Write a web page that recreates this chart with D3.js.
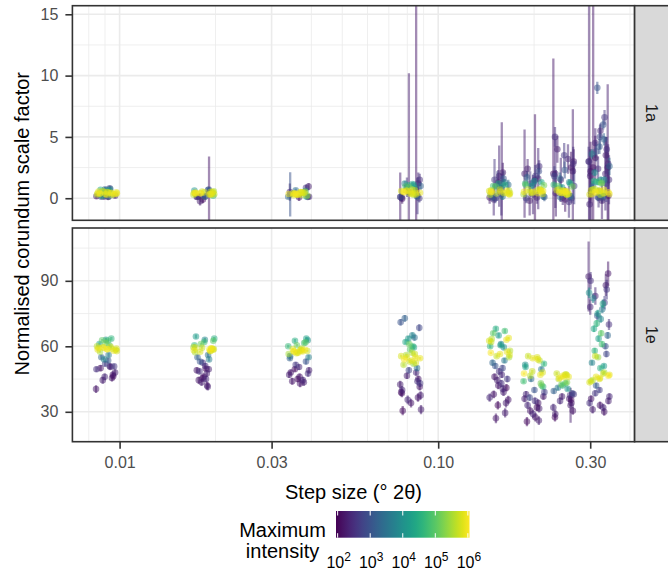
<!DOCTYPE html>
<html>
<head>
<meta charset="utf-8">
<script src="https://cdn.jsdelivr.net/npm/d3@7"></script>
<style>
  body { margin: 0; background: #fff; }
  text { font-family: "Liberation Sans", Arial, sans-serif; }
</style>
</head>
<body>
<svg id="chart" width="668" height="573"></svg>
<script>
// step sizes (° 2θ), one cluster per step
const steps = [0.0091, 0.0184, 0.0365, 0.082, 0.156, 0.2, 0.248, 0.32];
const xTicks = [0.01, 0.03, 0.1, 0.3];
const xMinorTicks = [0.008, 0.009, 0.02, 0.04, 0.05, 0.06, 0.07, 0.08, 0.09, 0.2, 0.4];
const legendTicks = [2, 3, 4, 5, 6];

// horizontal jitter, fraction of the jitter width
const jitter = [-0.82, 0.35, -0.10, 0.91, -0.55, 0.12, 0.67, -0.93, 0.44, -0.28,
                0.79, -0.66, 0.03, 0.58, -0.41, 0.95, -0.17, 0.26, -0.74, 0.50,
                -0.05, 0.86, -0.35, 0.19, -0.88, 0.70, -0.48, 0.08, 0.62, -0.22,
                0.38, -0.97, 0.15, -0.60, 0.83, -0.13, 0.47, -0.79, 0.29, -0.36];

// points per step: [scale factor, log10 max intensity, error]
const facet1a = [
  [[0.40,5.9,0.03],[0.48,5.8,0.03],[0.32,5.9,0.03],[0.52,5.7,0.04],[0.28,5.8,0.03],[0.41,6.0,0.02],[0.55,5.9,0.03],[0.35,5.7,0.04],[0.30,5.6,0.04],[0.50,5.8,0.03],[0.44,5.7,0.04],[0.38,6.0,0.02],[0.26,5.5,0.05],[0.58,5.6,0.04],[0.34,5.9,0.03],[0.46,5.8,0.03],[0.42,6.0,0.02],[0.36,5.6,0.04],[0.18,4.6,0.08],[0.62,4.3,0.1],[0.65,3.9,0.12],[0.15,3.4,0.15],[0.12,2.8,0.2],[0.14,2.5,0.25],[0.10,2.3,0.25],[0.72,3.1,0.2],[0.80,2.7,0.22],[0.75,3.6,0.18],[0.68,4.4,0.1],[0.16,2.2,0.2],[0.20,2.4,0.2]],
  [[0.42,5.9,0.03],[0.50,5.8,0.03],[0.34,5.9,0.03],[0.55,5.7,0.04],[0.30,5.8,0.03],[0.41,6.0,0.02],[0.36,5.9,0.03],[0.53,5.7,0.04],[0.29,5.6,0.04],[0.46,5.8,0.03],[0.37,5.7,0.04],[0.44,6.0,0.02],[0.57,5.5,0.05],[0.27,5.6,0.04],[0.40,5.9,0.03],[0.48,5.8,0.03],[0.33,5.7,0.03],[0.45,6.0,0.02],[0.20,4.5,0.08],[0.62,4.1,0.1],[0.15,3.5,0.15],[0.66,3.2,0.18],[0.12,2.7,0.2],[0.45,2.2,2.95],[-0.25,2.3,0.35],[-0.10,2.1,0.3],[0.14,2.4,0.25],[0.70,2.8,0.2],[0.10,2.2,0.2],[0.16,2.5,0.2]],
  [[0.36,5.9,0.03],[0.44,5.8,0.03],[0.28,5.9,0.03],[0.48,5.7,0.04],[0.25,5.8,0.03],[0.37,6.0,0.02],[0.50,5.9,0.03],[0.31,5.7,0.04],[0.26,5.6,0.04],[0.46,5.8,0.03],[0.40,5.7,0.04],[0.34,6.0,0.02],[0.22,5.5,0.05],[0.52,5.6,0.04],[0.30,5.9,0.03],[0.42,5.8,0.03],[0.38,6.0,0.02],[0.15,4.4,0.08],[0.58,4.0,0.1],[0.12,3.3,0.15],[0.10,2.6,0.2],[0.32,3.0,1.8],[0.50,2.4,0.7],[0.95,2.3,0.3],[0.85,2.6,0.25],[0.64,3.4,0.15],[0.08,2.2,0.3],[0.12,2.4,0.2]],
  [[0.45,5.9,0.04],[0.58,5.8,0.04],[0.35,5.9,0.04],[0.65,5.7,0.05],[0.48,6.0,0.03],[0.30,5.8,0.04],[0.60,5.9,0.04],[0.38,5.6,0.05],[0.70,5.7,0.05],[0.42,5.8,0.04],[0.52,6.0,0.03],[0.62,5.6,0.05],[0.28,5.5,0.06],[0.55,5.9,0.04],[0.40,5.7,0.04],[0.95,4.9,0.1],[1.05,4.6,0.12],[1.15,4.3,0.15],[0.90,5.1,0.1],[1.10,4.0,0.15],[0.85,4.4,0.12],[1.20,3.7,0.2],[0.10,3.0,0.3],[0.00,2.6,0.35],[0.15,3.4,0.2],[0.50,2.3,9.7],[0.70,2.2,16],[0.90,2.5,0.8],[1.20,2.4,0.9],[0.20,2.6,1.5],[0.10,2.3,2.0],[1.50,2.5,0.5],[-0.05,2.2,0.4],[0.05,2.4,0.3],[1.00,3.2,0.3]],
  [[0.45,5.9,0.05],[0.58,5.8,0.05],[0.35,5.9,0.05],[0.65,5.7,0.06],[0.48,6.0,0.04],[0.30,5.8,0.05],[0.60,5.9,0.05],[0.38,5.6,0.06],[0.70,5.7,0.06],[0.42,5.8,0.05],[0.52,6.0,0.04],[0.62,5.6,0.06],[0.28,5.5,0.07],[0.55,5.9,0.05],[0.40,5.7,0.06],[1.00,4.8,0.12],[1.10,4.5,0.15],[0.95,5.0,0.1],[1.20,4.2,0.18],[0.90,4.0,0.2],[1.30,3.6,0.25],[0.10,3.2,0.35],[0.00,2.8,0.4],[0.15,3.5,0.3],[1.80,2.4,2.5],[0.80,2.3,5.4],[1.50,2.6,1.7],[1.00,2.8,1.2],[0.30,2.5,1.7],[1.30,2.2,1.0],[2.10,2.3,0.8],[1.60,3.0,0.6],[-0.10,2.4,1.3],[0.05,2.3,0.5],[1.10,3.4,0.4]],
  [[0.50,5.9,0.05],[0.62,5.8,0.05],[0.40,5.9,0.05],[0.70,5.7,0.06],[0.52,6.0,0.04],[0.35,5.8,0.05],[0.65,5.9,0.05],[0.42,5.6,0.06],[0.74,5.7,0.06],[0.46,5.8,0.05],[0.56,6.0,0.04],[0.68,5.6,0.06],[0.32,5.5,0.07],[0.58,5.9,0.05],[1.10,5.0,0.1],[1.20,4.7,0.12],[1.05,5.2,0.1],[1.30,4.4,0.15],[1.00,4.1,0.2],[1.40,3.8,0.25],[0.10,3.1,0.35],[0.00,2.7,0.4],[0.15,3.4,0.3],[2.00,2.3,3.6],[1.50,2.2,5.35],[1.60,2.4,2.5],[2.40,2.3,0.8],[2.60,2.5,0.5],[1.20,2.6,1.0],[0.30,2.4,1.6],[1.80,2.7,0.9],[2.20,2.9,0.6],[1.70,3.2,0.5],[-0.20,2.3,1.2],[0.05,2.4,0.5],[1.25,3.5,0.4]],
  [[0.45,5.9,0.05],[0.58,5.8,0.05],[0.35,5.9,0.05],[0.65,5.7,0.06],[0.48,6.0,0.04],[0.30,5.8,0.05],[0.60,5.9,0.05],[0.38,5.6,0.06],[0.70,5.7,0.06],[0.42,5.8,0.05],[0.52,6.0,0.04],[0.62,5.6,0.06],[0.28,5.5,0.07],[0.55,5.9,0.05],[1.00,5.0,0.1],[1.10,4.7,0.12],[0.95,5.2,0.1],[1.20,4.4,0.15],[0.90,4.1,0.2],[1.30,3.8,0.25],[0.10,3.1,0.35],[0.00,2.7,0.4],[0.15,3.4,0.3],[2.00,2.2,9.4],[2.20,2.3,5.05],[2.00,2.4,2.8],[5.00,2.5,0.8],[3.00,2.3,1.0],[2.50,2.2,1.3],[1.50,2.4,1.8],[3.50,2.6,1.0],[1.00,2.7,1.5],[0.40,2.3,1.9],[2.80,2.5,1.4],[1.80,2.8,0.8],[2.30,3.0,0.7],[3.20,2.4,1.2],[4.00,2.3,1.1],[-0.30,2.5,1.3],[1.60,3.3,0.5],[0.05,2.4,0.6],[-0.10,2.2,1.0]],
  [[0.45,5.9,0.05],[0.58,5.8,0.05],[0.35,5.9,0.05],[0.65,5.7,0.06],[0.48,6.0,0.04],[0.30,5.8,0.05],[0.60,5.9,0.05],[0.38,5.6,0.06],[0.70,5.7,0.06],[0.42,5.8,0.05],[0.52,6.0,0.04],[0.62,5.6,0.06],[0.28,5.5,0.07],[0.68,5.9,0.05],[0.33,5.8,0.05],[0.75,5.7,0.06],[1.25,5.0,0.1],[1.35,4.8,0.12],[1.20,5.2,0.1],[1.40,4.5,0.15],[1.30,4.2,0.2],[1.50,3.8,0.25],[0.10,3.1,0.35],[0.00,2.7,0.4],[0.15,3.4,0.3],[2.50,2.2,16],[3.00,2.3,16],[2.50,2.3,6.8],[2.00,2.4,3.0],[9.00,3.0,0.5],[6.60,2.6,0.6],[4.50,2.4,1.2],[4.00,2.5,1.0],[3.50,2.3,1.5],[3.00,2.6,1.2],[2.80,2.4,1.6],[2.20,2.2,2.4],[1.80,2.3,2.2],[1.50,2.5,2.0],[1.20,2.7,1.5],[3.80,2.9,0.8],[4.20,3.1,0.6],[2.60,3.3,0.7],[0.50,2.3,2.3],[0.20,2.2,2.5],[-0.50,2.4,1.3],[5.00,2.8,1.0],[6.00,3.0,0.4],[1.00,3.5,0.4],[1.50,3.8,0.3],[3.30,2.2,1.8],[2.40,2.5,1.0],[5.50,2.4,0.6],[4.80,3.2,0.5],[3.60,3.6,0.4],[2.10,3.9,0.3],[-0.20,2.3,1.5],[0.05,2.5,0.8]]
];

const facet1e = [
  [[58.5,5.9,0.4],[59.0,5.8,0.4],[58.0,5.9,0.4],[59.5,5.7,0.5],[58.8,6.0,0.3],[57.8,5.8,0.4],[59.2,5.9,0.4],[58.3,5.7,0.5],[60.0,5.6,0.5],[58.6,5.9,0.4],[59.8,5.8,0.4],[57.5,5.5,0.5],[58.9,5.7,0.4],[59.4,6.0,0.3],[61.5,5.2,0.6],[62.5,4.9,0.7],[63.5,4.6,0.8],[61.0,4.4,0.8],[62.8,5.0,0.6],[60.5,4.8,0.7],[63.0,4.2,0.9],[56.0,3.6,1.0],[55.0,3.3,1.0],[54.0,3.8,1.0],[53.5,3.1,1.2],[52.0,2.7,1.3],[51.0,2.4,1.3],[50.5,2.3,1.4],[50.0,2.2,1.4],[49.5,2.5,1.3],[48.0,2.3,1.5],[47.0,2.2,1.5],[46.0,2.4,1.5],[45.5,2.2,1.6],[44.5,2.3,1.6],[50.8,2.6,1.2],[46.3,2.1,1.5],[40.4,2.2,1.8]],
  [[58.2,5.9,0.4],[58.8,5.8,0.4],[57.8,5.9,0.4],[59.3,5.7,0.5],[58.5,6.0,0.3],[57.5,5.8,0.4],[59.0,5.9,0.4],[58.0,5.7,0.5],[59.6,5.6,0.5],[58.4,5.9,0.4],[59.4,5.8,0.4],[57.3,5.5,0.5],[58.7,5.7,0.4],[59.1,6.0,0.3],[61.0,5.1,0.6],[62.0,4.8,0.7],[63.5,4.5,0.8],[64.5,4.2,0.9],[62.5,5.0,0.6],[60.5,4.7,0.7],[63.0,3.9,0.9],[56.0,3.5,1.0],[55.0,3.2,1.0],[54.0,3.7,1.0],[53.0,3.0,1.2],[52.5,2.6,1.3],[51.0,2.4,1.3],[49.5,2.3,1.4],[49.0,2.2,1.4],[48.5,2.5,1.3],[47.5,2.3,1.5],[46.0,2.2,1.5],[45.0,2.4,1.5],[44.5,2.2,1.6],[43.5,2.3,1.6],[49.8,2.1,1.2],[45.3,2.1,1.5],[42.0,2.2,1.8],[41.5,2.3,1.8]],
  [[57.5,5.9,0.4],[58.0,5.8,0.4],[57.0,5.9,0.4],[58.5,5.7,0.5],[57.8,6.0,0.3],[56.8,5.8,0.4],[58.2,5.9,0.4],[57.3,5.7,0.5],[59.0,5.6,0.5],[57.6,5.9,0.4],[58.7,5.8,0.4],[56.5,5.5,0.5],[57.9,5.7,0.4],[58.4,6.0,0.3],[60.5,5.1,0.6],[61.5,4.8,0.7],[62.5,4.5,0.8],[63.5,4.3,0.9],[61.8,5.0,0.6],[60.0,4.7,0.7],[62.8,4.0,0.9],[55.5,3.5,1.0],[54.5,3.2,1.0],[55.0,3.7,1.0],[53.0,3.0,1.2],[51.5,2.6,1.3],[50.5,2.4,1.3],[49.0,2.3,1.4],[48.0,2.2,1.4],[47.5,2.5,1.3],[47.0,2.3,1.5],[46.0,2.2,1.5],[44.5,2.4,1.5],[44.0,2.2,1.6],[43.5,2.3,1.6],[49.5,2.1,1.2],[45.0,2.1,1.5],[43.0,2.2,1.8]],
  [[54.5,5.9,0.6],[55.5,5.8,0.6],[53.5,5.9,0.6],[56.5,5.7,0.7],[54.0,6.0,0.5],[52.5,5.8,0.6],[55.0,5.9,0.6],[53.0,5.7,0.7],[57.0,5.6,0.7],[54.8,5.9,0.6],[51.5,5.6,0.7],[56.0,5.5,0.7],[52.0,5.4,0.8],[58.5,5.0,0.9],[60.0,4.7,1.0],[62.0,4.4,1.1],[63.5,4.1,1.2],[65.0,3.8,1.3],[61.0,5.1,0.9],[59.5,4.3,1.0],[64.0,3.4,1.3],[72.8,3.2,1.5],[71.0,3.0,1.5],[68.5,2.8,1.6],[50.0,3.5,1.2],[49.0,2.8,1.4],[48.0,2.4,1.5],[46.5,2.3,1.5],[45.0,2.2,1.6],[44.0,2.5,1.6],[42.5,2.3,1.7],[41.5,2.2,1.7],[40.0,2.4,1.8],[38.5,2.2,1.8],[37.5,2.3,1.9],[36.5,2.2,1.9],[35.5,2.4,2.0],[34.0,2.2,2.0],[31.0,2.3,2.1],[30.5,2.1,2.1],[43.0,2.6,1.6],[39.0,2.1,1.8]],
  [[63.0,5.9,0.6],[62.5,5.8,0.6],[63.8,5.9,0.6],[62.0,5.7,0.7],[57.0,6.0,0.5],[56.0,5.8,0.6],[57.5,5.9,0.6],[55.5,5.7,0.7],[56.5,5.9,0.6],[58.0,5.6,0.7],[63.3,5.6,0.6],[55.0,5.5,0.7],[60.0,4.6,0.9],[60.5,4.3,0.9],[59.5,4.0,1.0],[66.0,5.0,1.0],[67.0,4.8,1.0],[68.0,4.5,1.1],[65.0,4.2,1.1],[61.0,3.8,1.2],[53.5,3.6,1.2],[52.5,3.3,1.3],[51.0,3.0,1.3],[50.0,2.8,1.4],[48.5,2.5,1.5],[47.0,2.4,1.5],[46.0,2.2,1.5],[44.5,2.3,1.6],[43.0,2.5,1.6],[42.0,2.2,1.7],[40.5,2.4,1.7],[39.0,2.3,1.8],[38.0,2.2,1.8],[36.5,2.4,1.9],[35.5,2.2,1.9],[34.0,2.3,2.0],[33.0,2.1,2.0],[29.5,2.3,2.1],[27.0,2.2,2.2],[45.0,2.6,1.5],[41.0,2.1,1.7]],
  [[54.5,5.9,0.6],[55.0,5.8,0.6],[54.0,5.9,0.6],[55.5,5.7,0.7],[47.5,6.0,0.5],[48.0,5.8,0.6],[47.0,5.9,0.6],[48.5,5.7,0.7],[53.5,5.6,0.7],[46.5,5.6,0.7],[42.0,5.0,0.9],[43.0,5.2,0.9],[44.0,4.8,0.9],[41.5,4.6,1.0],[50.5,4.3,1.0],[51.5,4.0,1.0],[52.0,4.6,0.9],[49.5,3.6,1.1],[45.0,3.4,1.2],[40.0,3.0,1.3],[39.0,2.7,1.4],[38.0,2.4,1.5],[37.0,2.2,1.5],[36.0,2.3,1.6],[35.0,2.5,1.6],[34.0,2.2,1.7],[33.0,2.4,1.7],[31.5,2.3,1.8],[30.5,2.2,1.8],[29.0,2.4,1.9],[27.5,2.2,2.0],[26.0,2.3,2.0],[25.5,2.1,2.1],[36.5,2.8,1.4],[32.0,2.1,1.8]],
  [[46.5,5.9,0.6],[47.0,5.8,0.6],[46.0,5.9,0.6],[47.5,5.7,0.7],[45.5,6.0,0.5],[46.8,5.8,0.6],[45.8,5.9,0.6],[47.2,5.7,0.7],[45.0,5.6,0.7],[42.5,5.1,0.8],[43.0,4.8,0.9],[42.0,4.5,0.9],[43.5,5.3,0.8],[40.5,4.0,1.0],[41.0,3.6,1.1],[39.5,3.2,1.2],[38.5,2.8,1.3],[37.5,2.5,1.4],[37.0,2.3,1.5],[36.0,2.2,1.5],[35.0,2.4,1.6],[34.0,2.2,1.6],[33.0,2.3,8.0],[32.0,2.4,1.7],[30.5,2.2,1.8],[29.0,2.3,1.9],[27.5,2.1,2.0],[38.0,2.6,1.3],[35.5,2.1,1.6]],
  [[46.0,5.9,0.6],[45.0,5.8,0.6],[47.0,5.9,0.6],[44.0,5.7,0.7],[46.5,6.0,0.5],[43.5,5.8,0.6],[45.5,5.9,0.6],[47.5,5.7,0.7],[44.5,5.6,0.7],[48.0,5.5,0.7],[55.5,5.7,0.9],[55.0,5.4,0.9],[50.0,4.5,1.0],[51.0,4.2,1.0],[52.5,3.8,1.1],[58.0,4.6,1.2],[61.0,4.8,1.3],[63.5,4.3,1.4],[66.0,5.0,1.4],[68.0,4.4,1.5],[70.5,4.6,1.6],[72.5,3.9,1.7],[75.0,4.2,1.8],[77.0,3.6,1.9],[79.5,4.4,2.0],[82.0,3.8,2.2],[84.5,4.0,2.4],[65.0,3.3,1.5],[60.0,3.0,1.4],[74.0,3.0,2.0],[80.0,2.7,3.0],[83.0,2.4,4.0],[86.0,2.6,4.5],[88.0,2.3,5.0],[92.0,2.3,16.0],[93.3,2.2,5.5],[90.0,2.5,4.0],[78.0,2.4,3.5],[70.0,2.5,2.5],[56.5,2.8,1.5],[42.0,3.1,1.2],[40.0,2.7,1.3],[37.0,2.4,1.5],[36.0,2.2,1.5],[35.0,2.3,1.6],[34.0,2.5,1.6],[33.0,2.2,1.7],[32.0,2.4,1.7],[31.0,2.3,1.8],[30.0,2.2,1.8],[38.5,2.6,1.4]]
];

const svg = d3.select("#chart");
const x = d3.scaleLog().domain([0.00711, 0.4135]).range([72.4, 634.6]);
const color = d3.scaleSequential(d3.interpolateViridis).domain([1.95, 6.05]);
const jitterWidth = 0.034; // decades

const panels = [
  { name: "1a", data: facet1a, ticks: [0, 5, 10, 15], minor: [2.5, 7.5, 12.5],
    y: d3.scaleLinear().domain([-1.8, 15.7]).range([220.3, 5.7]) },
  { name: "1e", data: facet1e, ticks: [30, 60, 90], minor: [45, 75, 105],
    y: d3.scaleLinear().domain([16.3, 114.2]).range([441.7, 228]) }
];

const [xl, xr] = x.range();

panels.forEach((p, pi) => {
  const [yb, yt] = p.y.range();
  const g = svg.append("g");

  g.append("rect").attr("x", xl).attr("y", yt).attr("width", xr - xl).attr("height", yb - yt).attr("fill", "#fff");

  // grid
  g.selectAll(".vminor").data(xMinorTicks.filter(d => x(d) < xr)).join("line")
    .attr("x1", d => x(d)).attr("x2", d => x(d)).attr("y1", yt).attr("y2", yb)
    .attr("stroke", "#EBEBEB").attr("stroke-width", 0.8);
  g.selectAll(".hminor").data(p.minor.filter(d => p.y(d) > yt)).join("line")
    .attr("x1", xl).attr("x2", xr).attr("y1", d => p.y(d)).attr("y2", d => p.y(d))
    .attr("stroke", "#EBEBEB").attr("stroke-width", 0.8);
  g.selectAll(".vmajor").data(xTicks).join("line")
    .attr("x1", d => x(d)).attr("x2", d => x(d)).attr("y1", yt).attr("y2", yb)
    .attr("stroke", "#EBEBEB").attr("stroke-width", 1.6);
  g.selectAll(".hmajor").data(p.ticks).join("line")
    .attr("x1", xl).attr("x2", xr).attr("y1", d => p.y(d)).attr("y2", d => p.y(d))
    .attr("stroke", "#EBEBEB").attr("stroke-width", 1.6);

  const clipId = "clip" + pi;
  svg.append("clipPath").attr("id", clipId).append("rect")
    .attr("x", xl).attr("y", yt).attr("width", xr - xl).attr("height", yb - yt);

  const pts = [];
  p.data.forEach((cluster, k) => {
    cluster.forEach((d, i) => {
      const j = jitter[(i * 3 + k * 7) % jitter.length];
      pts.push({ step: steps[k] * Math.pow(10, j * jitterWidth), y: d[0], c: d[1], e: d[2] });
    });
  });
  pts.sort((a, b) => a.c - b.c);

  const marks = g.append("g").attr("clip-path", `url(#${clipId})`);
  marks.selectAll("line.err").data(pts).join("line").attr("class", "err")
    .attr("x1", d => x(d.step)).attr("x2", d => x(d.step))
    .attr("y1", d => p.y(d.y - d.e)).attr("y2", d => p.y(d.y + d.e))
    .attr("stroke", d => color(d.c)).attr("stroke-opacity", 0.5).attr("stroke-width", 2.3);
  marks.selectAll("circle").data(pts).join("circle")
    .attr("cx", d => x(d.step)).attr("cy", d => p.y(d.y)).attr("r", 3.3)
    .attr("fill", d => color(d.c)).attr("fill-opacity", 0.5);

  g.append("rect").attr("x", xl).attr("y", yt).attr("width", xr - xl).attr("height", yb - yt)
    .attr("fill", "none").attr("stroke", "#333333").attr("stroke-width", 1.6);

  // strip
  g.append("rect").attr("x", xr).attr("y", yt).attr("width", 36).attr("height", yb - yt)
    .attr("fill", "#D9D9D9").attr("stroke", "#333333").attr("stroke-width", 1.6);
  g.append("text").attr("transform", `translate(${xr + 17},${(yt + yb) / 2}) rotate(90)`)
    .attr("text-anchor", "middle").attr("dy", "0.35em").attr("fill", "#1A1A1A")
    .style("font-size", "16px").text(p.name);

  // y axis
  const ya = g.append("g").attr("transform", `translate(${xl},0)`)
    .call(d3.axisLeft(p.y).tickValues(p.ticks).tickSize(7).tickSizeOuter(0).tickPadding(7));
  ya.select(".domain").remove();
  ya.selectAll(".tick line").attr("stroke", "#333333").attr("stroke-width", 1.6);
  ya.selectAll(".tick text").attr("fill", "#4D4D4D").style("font-size", "16px")
    .style("font-family", '"Liberation Sans", Arial, sans-serif');
});

// x axis
const xa = svg.append("g").attr("transform", "translate(0,441.7)")
  .call(d3.axisBottom(x).tickValues(xTicks).tickFormat(d3.format(".2f")).tickSize(7).tickSizeOuter(0).tickPadding(8));
xa.select(".domain").remove();
xa.selectAll(".tick line").attr("stroke", "#333333").attr("stroke-width", 1.6);
xa.selectAll(".tick text").attr("fill", "#4D4D4D").style("font-size", "16px")
  .style("font-family", '"Liberation Sans", Arial, sans-serif');

// titles
svg.append("text").attr("x", (xl + xr) / 2).attr("y", 499.3).attr("text-anchor", "middle")
  .style("font-size", "20px").attr("fill", "#000").text("Step size (° 2θ)");
svg.append("text").attr("transform", "translate(28.5,223.7) rotate(-90)").attr("text-anchor", "middle")
  .style("font-size", "20px").attr("fill", "#000").text("Normalised corundum scale factor");

// legend
const lx = d3.scaleLinear().domain(color.domain()).range([336, 469.5]);
const defs = svg.append("defs");
const grad = defs.append("linearGradient").attr("id", "vir").attr("x1", "0%").attr("x2", "100%");
d3.range(0, 1.0001, 0.05).forEach(t => {
  grad.append("stop").attr("offset", `${t * 100}%`)
    .attr("stop-color", color(color.domain()[0] + t * (color.domain()[1] - color.domain()[0])));
});
const barTop = 511, barBot = 537.7;
svg.append("rect").attr("x", lx.range()[0]).attr("y", barTop)
  .attr("width", lx.range()[1] - lx.range()[0]).attr("height", barBot - barTop).attr("fill", "url(#vir)");
svg.selectAll(".ltick-t").data(legendTicks).join("line")
  .attr("x1", d => lx(d)).attr("x2", d => lx(d)).attr("y1", barTop).attr("y2", barTop + 4.5)
  .attr("stroke", "#fff").attr("stroke-width", 1);
svg.selectAll(".ltick-b").data(legendTicks).join("line")
  .attr("x1", d => lx(d)).attr("x2", d => lx(d)).attr("y1", barBot - 4.5).attr("y2", barBot)
  .attr("stroke", "#fff").attr("stroke-width", 1);
const lt = svg.selectAll(".llab").data(legendTicks).join("text")
  .attr("x", d => lx(d) + 1).attr("y", 568.3).attr("text-anchor", "middle").attr("fill", "#000")
  .style("font-size", "16px");
lt.append("tspan").text("10");
lt.append("tspan").attr("dy", -7).style("font-size", "12px").text(d => d);

svg.append("text").attr("x", 282.5).attr("y", 537.3).attr("text-anchor", "middle")
  .style("font-size", "20px").text("Maximum");
svg.append("text").attr("x", 282.5).attr("y", 558.3).attr("text-anchor", "middle")
  .style("font-size", "20px").text("intensity");
</script>
</body>
</html>
